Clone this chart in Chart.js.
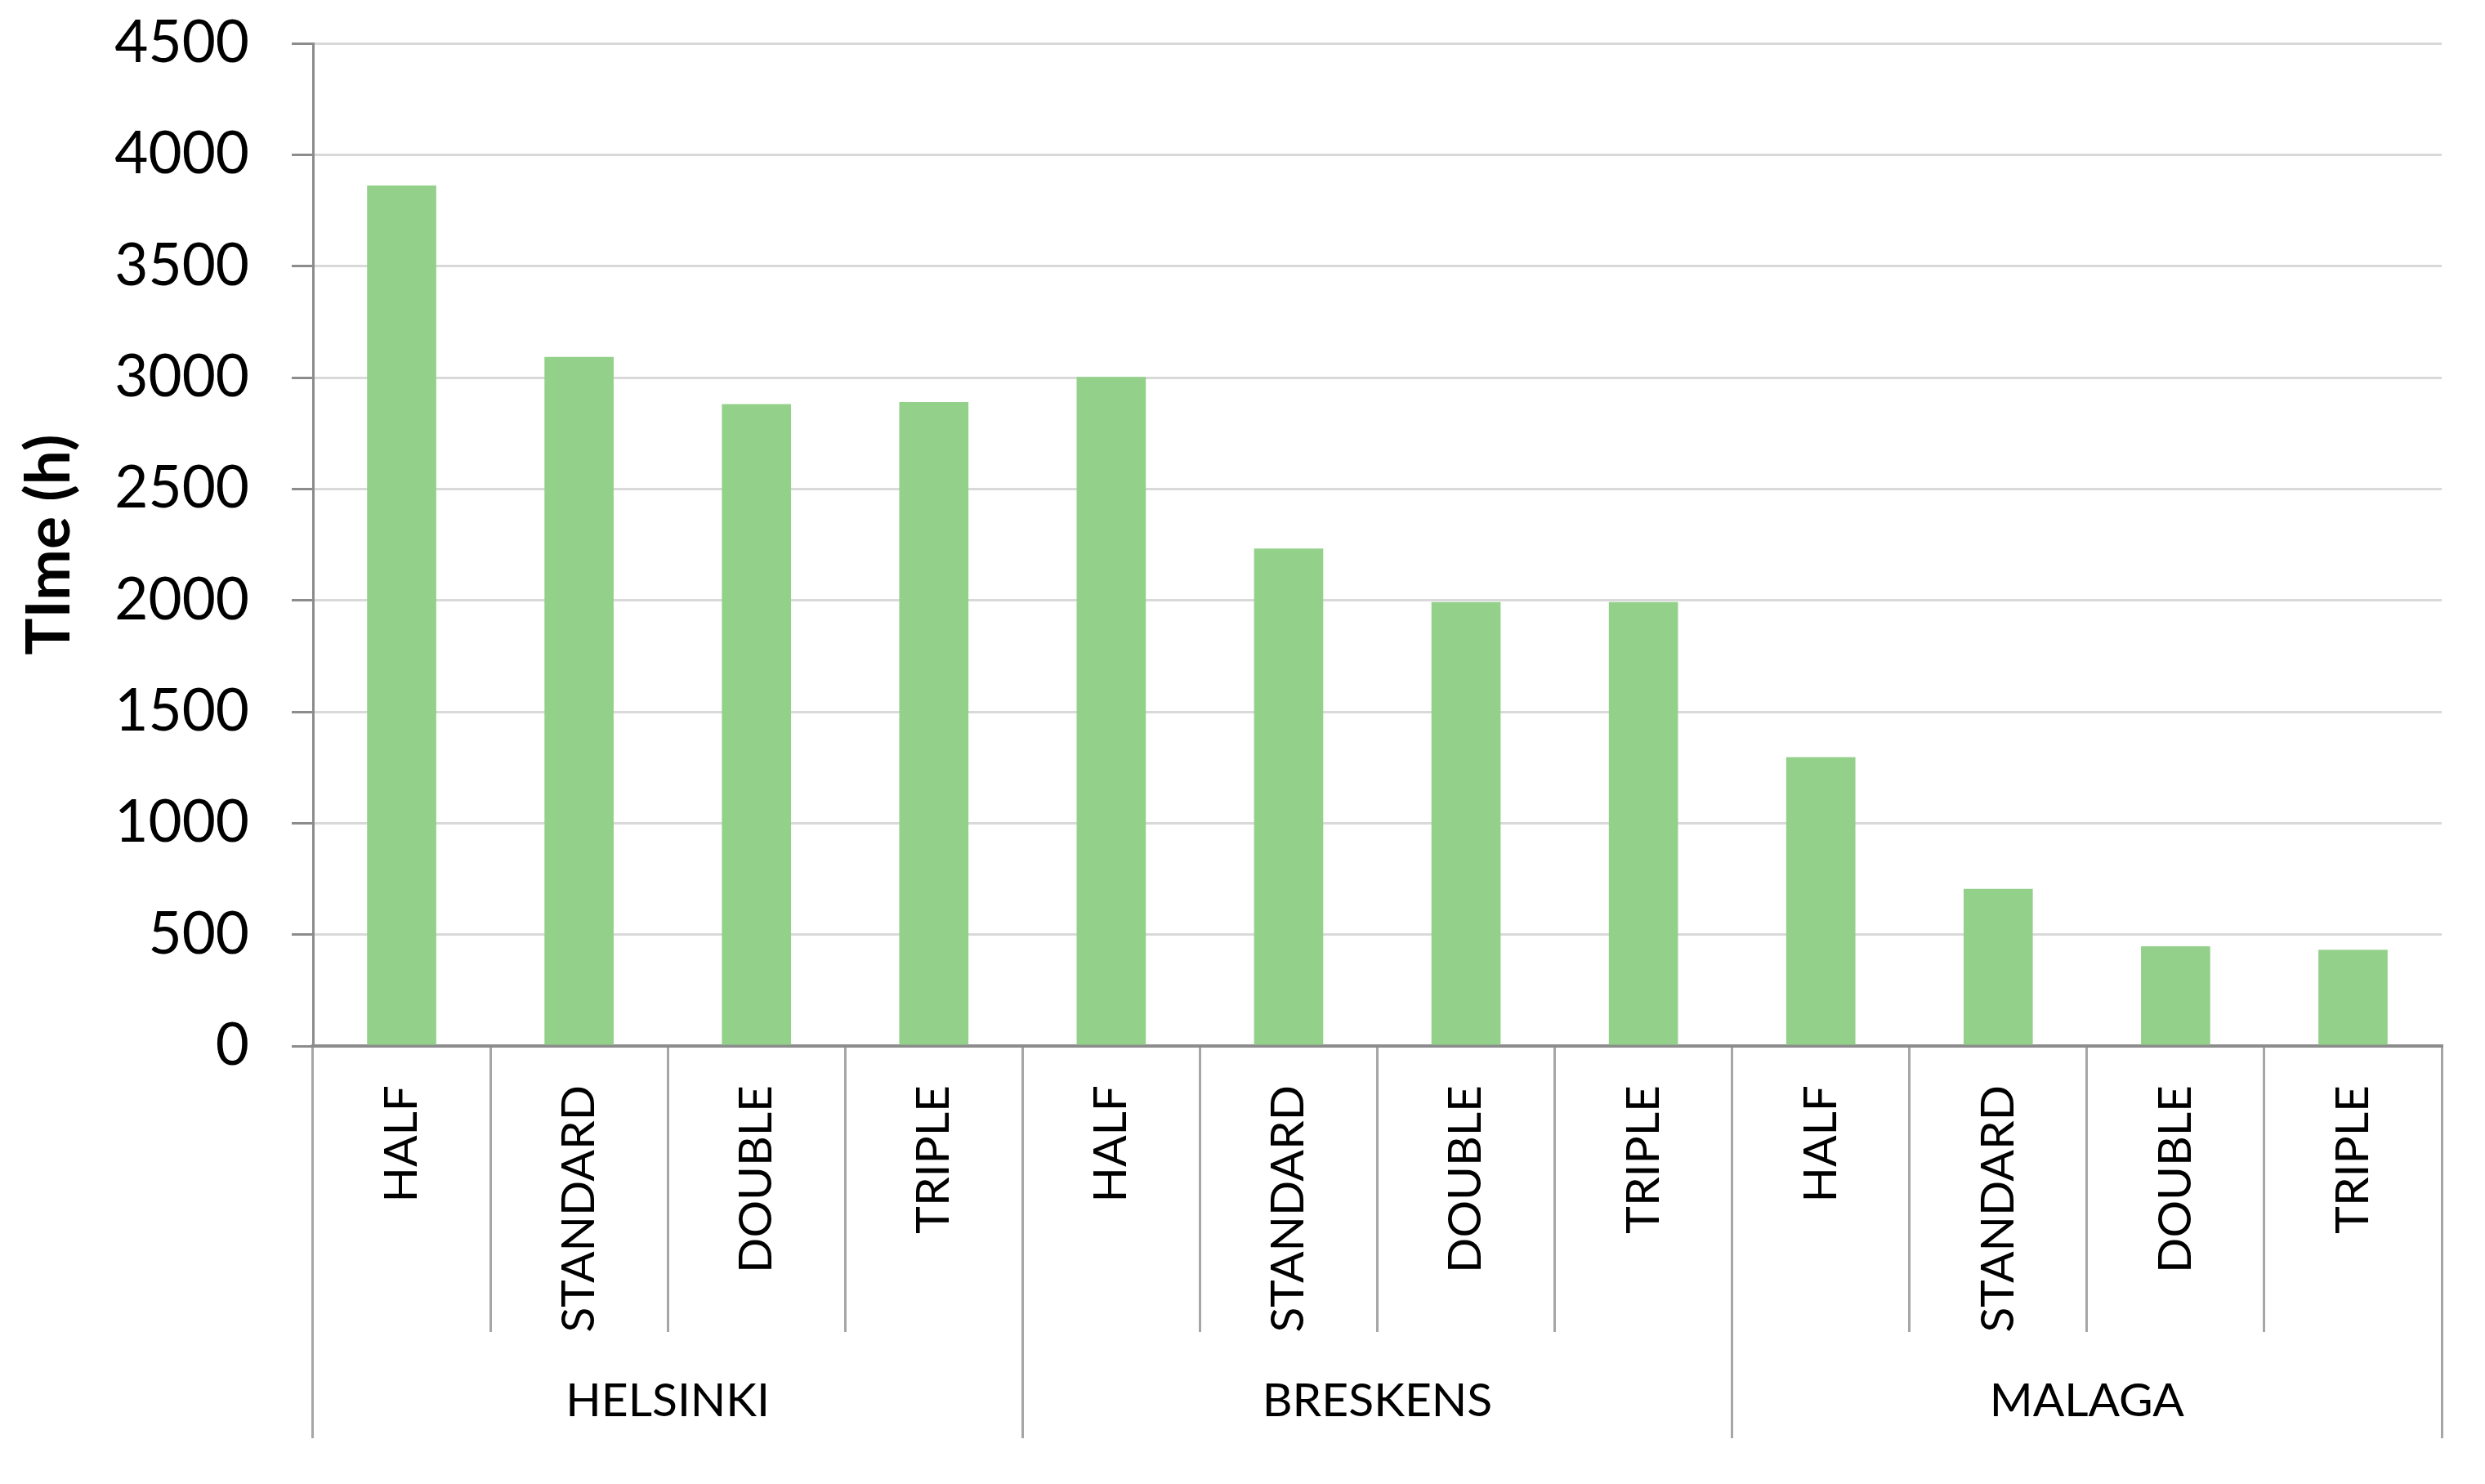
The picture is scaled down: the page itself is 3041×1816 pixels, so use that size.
<!DOCTYPE html>
<html>
<head>
  <title>Time per location and size</title>
  <script src="https://cdn.jsdelivr.net/npm/chart.js@4.4.1/dist/chart.umd.min.js"></script>
  <style>
    body { margin: 0; background: #fff; }
    #chart { display: block; }
  </style>
</head>
<body>
  <canvas id="chart" width="3041" height="1816"></canvas>
  <script>
    // values (hours)
    const groups = ['HELSINKI', 'BRESKENS', 'MALAGA'];
    const levels = ['HALF', 'STANDARD', 'DOUBLE', 'TRIPLE'];
    const helsinki = [3862, 3093, 2881, 2890];
    const breskens = [3003, 2233, 1992, 1992];
    const malaga = [1296, 705, 447, 432];
    const yMin = 0, yMax = 4500, yStep = 500;

    const labels = [];
    groups.forEach(() => levels.forEach(l => labels.push(l)));
    const values = [...helsinki, ...breskens, ...malaga];

    Chart.defaults.font.family = 'Lato';
    Chart.defaults.color = '#000';

    const axisGray = '#8c8c8c';
    const sepGray = '#a6a6a6';

    new Chart(document.getElementById('chart').getContext('2d'), {
      type: 'bar',
      data: {
        labels: labels,
        datasets: [{
          label: 'Time (h)',
          data: values,
          backgroundColor: '#93d18a',
          barPercentage: 0.39,
          categoryPercentage: 1
        }]
      },
      options: {
        responsive: false,
        animation: false,
        devicePixelRatio: 1,
        layout: { padding: { top: 53, right: 53, bottom: 56, left: 0 } },
        plugins: { legend: { display: false }, tooltip: { enabled: false } },
        scales: {
          x: {
            type: 'category',
            offset: true,
            grid: { offset: true, drawOnChartArea: false, tickLength: 350, color: sepGray, lineWidth: 3 },
            border: { display: true, color: axisGray, width: 4 },
            ticks: { autoSkip: false, minRotation: 90, maxRotation: 90, padding: -302, font: { size: 57 } },
            afterFit: s => { s.height = 350; }
          },
          x2: {
            type: 'category',
            position: 'bottom',
            labels: groups,
            offset: true,
            grid: { offset: true, drawOnChartArea: false, tickLength: 130, color: sepGray, lineWidth: 3 },
            border: { display: false },
            ticks: { autoSkip: false, maxRotation: 0, padding: -80, font: { size: 57 } },
            afterFit: s => { s.height = 130; }
          },
          y: {
            min: yMin,
            max: yMax,
            ticks: { stepSize: yStep, padding: 52, font: { size: 71 }, callback: v => String(v) },
            grid: { color: '#d9d9d9', lineWidth: 3, tickColor: axisGray, tickLength: 26 },
            border: { color: axisGray, width: 3 },
            title: {
              display: true,
              text: 'TIme (h)',
              font: { size: 75, weight: 'bold' },
              padding: { top: 16, bottom: 0 }
            },
            // fixed width, and don't let the label padding push the top down
            afterFit: s => { s.width = 383; s.paddingTop = 0; s.paddingBottom = 0; }
          }
        }
      }
    });
  </script>
</body>
</html>
